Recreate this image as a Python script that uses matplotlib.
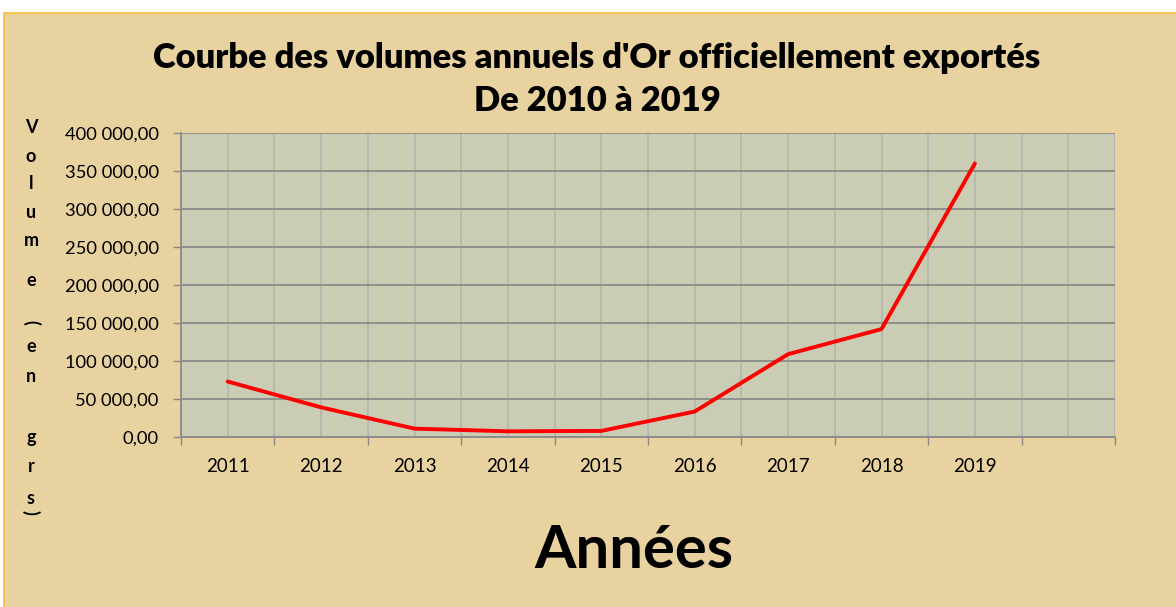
import matplotlib
matplotlib.use("Agg")
import matplotlib.pyplot as plt
from matplotlib.patches import Rectangle
from matplotlib.ticker import FuncFormatter, MultipleLocator

years = ["2011", "2012", "2013", "2014", "2015", "2016", "2017", "2018", "2019", ""]
volumes = [73000, 39000, 11000, 7500, 8000, 33500, 109000, 142000, 360000]
ylabel_chars = ["V", "o", "l", "u", "m", "e", "(", "e", "n", "g", "r", "s", ")"]
ylabel_ypix = [128, 157, 184, 212, 240, 280, 322, 346, 377, 437, 466, 498, 512]

W, H = 1176, 607
fig = plt.figure(figsize=(W / 100, H / 100), dpi=100, facecolor="white")

# tan chart area with golden border
fig.patches.append(Rectangle((4 / W, -0.01), 1.0, (H - 13) / H + 0.01,
                             transform=fig.transFigure, facecolor="#E8D29F",
                             edgecolor="#F2C040", linewidth=1.2, zorder=-1))

ax = fig.add_axes([181 / W, (H - 437) / H, (1115 - 181) / W, (437 - 133) / H])
ax.set_zorder(1)
ax.set_facecolor("#CACDB3")

x = list(range(len(volumes)))
ax.plot(x, volumes, color="#FF0000", linewidth=2.8, zorder=3, solid_capstyle="round")

ax.set_xlim(-0.5, len(years) - 0.5)
ax.set_ylim(0, 400000)
ax.yaxis.set_major_locator(MultipleLocator(50000))
ax.yaxis.set_major_formatter(FuncFormatter(
    lambda v, p: f"{v:,.2f}".replace(",", " ").replace(".", ",")))

# categories labelled at centres, ticks at slot boundaries
ax.set_xticks(x + [len(volumes)])
ax.set_xticklabels(years)
ax.set_xticks([i - 0.5 for i in range(len(years) + 1)], minor=True)
ax.tick_params(axis="x", which="major", length=0, pad=15, labelsize=13.5)
ax.tick_params(axis="x", which="minor", length=6, color="#888888", width=1)
ax.tick_params(axis="y", length=6, color="#888888", width=1, labelsize=13.2, pad=10)
for lab in ax.get_xticklabels() + ax.get_yticklabels():
    lab.set_fontfamily("Lato")
    lab.set_color("#000000")

ax.grid(axis="x", which="both", color="#B4B4B0", linewidth=1.2)
ax.grid(axis="y", which="major", color="#8A8A8A", linewidth=1.3)
ax.set_axisbelow(True)
for s in ["top", "right"]:
    ax.spines[s].set_visible(False)
for s in ["left", "bottom"]:
    ax.spines[s].set_color("#8A8A8A")
    ax.spines[s].set_linewidth(1.3)

fig.text(597 / W, 1 - 58 / H, "Courbe des volumes annuels d'Or officiellement exportés",
         ha="center", va="center", fontsize=24.8, fontweight="heavy", fontfamily="Lato")
fig.text(597 / W, 1 - 101 / H, "De 2010 à 2019",
         ha="center", va="center", fontsize=24.8, fontweight="heavy", fontfamily="Lato")

for ch, yp in zip(ylabel_chars, ylabel_ypix):
    rot = -90 if ch in "()" else 0
    fig.text(31 / W, 1 - yp / H, ch, ha="center", va="center", fontsize=13,
             fontweight="bold", fontfamily="Lato", rotation=rot)

fig.text(634 / W, 1 - 551 / H, "Années", ha="center", va="center",
         fontsize=43, fontweight="bold", fontfamily="Lato")

fig.savefig("out.png", dpi=100, facecolor=fig.get_facecolor())
